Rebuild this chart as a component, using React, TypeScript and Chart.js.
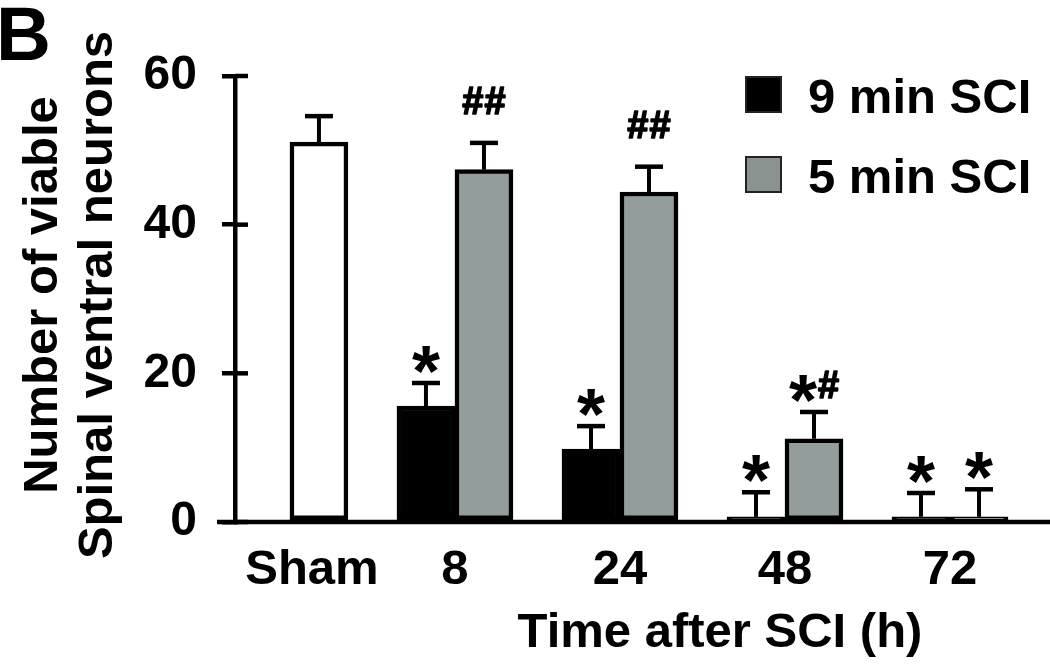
import React, { useEffect, useRef } from 'react';
import { Chart, registerables } from 'chart.js';

Chart.register(...registerables);

// ---- data ----
const categories = ['Sham', '8', '24', '48', '72'];
const shamValues = [51.1];
const shamErrors = [3.5];
const sci9Values = [15.6, 9.8, 0.7, 0.7]; // 8, 24, 48, 72 h
const sci9Errors = [3.1, 3.1, 3.3, 3.2];
const sci5Values = [47.4, 44.4, 11.2, 0.7];
const sci5Errors = [3.6, 3.4, 3.6, 3.7];
const sci9Marks = ['*', '*', '*', '*'];
const sci5Marks = ['##', '##', '*#', '*'];
const yTicks = [0, 20, 40, 60];
const yTitle = ['Number of viable', 'Spinal ventral neurons'];
const xTitle = 'Time after SCI (h)';
const panelLetter = 'B';
const seriesLabels = ['9 min SCI', '5 min SCI'];

const FONT = '"Liberation Sans", Arial, Helvetica, sans-serif';
const GRAY = '#939d9b';

function drawMark(ctx: CanvasRenderingContext2D, mark: string, cx: number, capY: number) {
  const starSize = 72;
  const hashSize = 38;
  const hasStar = mark.includes('*');
  const yc = hasStar ? capY - 27 : capY - 42;
  const parts = mark.split('');
  const widths = parts.map((ch) => {
    ctx.font = `bold ${ch === '*' ? starSize : hashSize}px ${FONT}`;
    return ctx.measureText(ch).width;
  });
  const gap = parts.length > 1 ? 1 : 0;
  const total = widths.reduce((a, b) => a + b, 0) + gap * (parts.length - 1);
  let x = cx - total / 2;
  ctx.textAlign = 'left';
  ctx.textBaseline = 'alphabetic';
  ctx.fillStyle = '#000';
  ctx.strokeStyle = '#000';
  ctx.lineJoin = 'round';
  parts.forEach((ch, i) => {
    const size = ch === '*' ? starSize : hashSize;
    ctx.font = `bold ${size}px ${FONT}`;
    const baseline = ch === '*' ? yc + 0.555 * size : yc + 0.35 * size;
    ctx.fillText(ch, x, baseline);
    if (ch === '#') {
      ctx.lineWidth = 1.6;
      ctx.strokeText(ch, x, baseline);
    }
    x += widths[i] + gap;
  });
}

const overlayPlugin = {
  id: 'overlay',
  afterDatasetsDraw(chart: any) {
    const ctx: CanvasRenderingContext2D = chart.ctx;
    const { left, right, bottom } = chart.chartArea;
    const ys = chart.scales.y;
    ctx.save();
    // error bars + significance marks
    chart.data.datasets.forEach((ds: any, di: number) => {
      const meta = chart.getDatasetMeta(di);
      meta.data.forEach((el: any, i: number) => {
        const raw = ds.data[i];
        const err = ds.errors[i];
        const capY = ys.getPixelForValue(raw.y + err);
        const x = el.x;
        ctx.strokeStyle = '#000';
        ctx.lineWidth = 4;
        ctx.beginPath();
        ctx.moveTo(x, el.y);
        ctx.lineTo(x, capY);
        ctx.stroke();
        ctx.lineWidth = 4.5;
        ctx.beginPath();
        ctx.moveTo(x - 14, capY);
        ctx.lineTo(x + 14, capY);
        ctx.stroke();
        const mark = ds.marks ? ds.marks[i] : '';
        if (mark) drawMark(ctx, mark, x, capY);
      });
    });
    // baseline (x axis line), extends left of the y axis
    ctx.strokeStyle = '#000';
    ctx.lineWidth = 4.5;
    ctx.beginPath();
    ctx.moveTo(left - 18, bottom);
    ctx.lineTo(right, bottom);
    ctx.stroke();
    // inner half of the y tick marks
    ys.ticks.forEach((t: any) => {
      const py = ys.getPixelForValue(t.value);
      ctx.beginPath();
      ctx.moveTo(left, py);
      ctx.lineTo(left + 13, py);
      ctx.stroke();
    });
    ctx.restore();
  },
  afterDraw(chart: any) {
    const ctx: CanvasRenderingContext2D = chart.ctx;
    const { top, bottom } = chart.chartArea;
    ctx.save();
    ctx.fillStyle = '#000';

    // panel letter
    ctx.font = `bold 76px ${FONT}`;
    ctx.textAlign = 'left';
    ctx.textBaseline = 'alphabetic';
    ctx.fillText(panelLetter, -4, 60);

    // x tick labels, centred under the bars of each category
    ctx.font = `bold 49px ${FONT}`;
    ctx.textAlign = 'center';
    categories.forEach((cat, ci) => {
      const xs: number[] = [];
      chart.data.datasets.forEach((ds: any, di: number) => {
        const meta = chart.getDatasetMeta(di);
        ds.data.forEach((p: any, i: number) => {
          if (p.x === ci) xs.push(meta.data[i].x);
        });
      });
      const cx = xs.reduce((a, b) => a + b, 0) / xs.length;
      ctx.fillText(cat, ci === 0 ? cx - 7 : cx, bottom + 62);
    });

    // x title
    ctx.fillText(xTitle, 720, bottom + 125);

    // y title (two lines, rotated)
    ctx.save();
    ctx.translate(43, (top + bottom) / 2 - 4);
    ctx.rotate(-Math.PI / 2);
    ctx.textAlign = 'center';
    ctx.textBaseline = 'middle';
    yTitle.forEach((line, i) => ctx.fillText(line, 0, i * 55));
    ctx.restore();

    // legend
    const legendItems = chart.data.datasets.filter((d: any) => d.inLegend);
    legendItems.forEach((ds: any, k: number) => {
      const sx = 745;
      const sy = 76 + k * 80;
      ctx.fillStyle = k === 0 ? ds.backgroundColor : '#8b9391';
      ctx.fillRect(sx, sy, 37, 37);
      ctx.strokeStyle = '#222';
      ctx.lineWidth = 2;
      ctx.strokeRect(sx + 1, sy + 1, 35, 35);
      ctx.fillStyle = '#000';
      ctx.font = `bold 49px ${FONT}`;
      ctx.textAlign = 'left';
      ctx.textBaseline = 'alphabetic';
      ctx.fillText(ds.label, 808, sy + 37);
    });
    ctx.restore();
  },
};

export default function App() {
  const ref = useRef<HTMLCanvasElement>(null);
  useEffect(() => {
    if (!ref.current) return;
    const datasets: any[] = [
      {
        label: seriesLabels[0],
        data: sci9Values.map((v, i) => ({ x: i + 1, y: v })),
        errors: sci9Errors,
        marks: sci9Marks,
        stack: 'a',
        inLegend: true,
        backgroundColor: '#000',
      },
      {
        label: seriesLabels[1],
        data: sci5Values.map((v, i) => ({ x: i + 1, y: v })),
        errors: sci5Errors,
        marks: sci5Marks,
        stack: 'b',
        inLegend: true,
        backgroundColor: GRAY,
      },
      {
        label: categories[0],
        data: shamValues.map((v) => ({ x: 0, y: v })),
        errors: shamErrors,
        marks: [],
        stack: 'b',
        inLegend: false,
        backgroundColor: '#fff',
      },
    ];
    const chart = new Chart(ref.current, {
      type: 'bar',
      data: { datasets },
      plugins: [overlayPlugin],
      options: {
        animation: false,
        responsive: false,
        devicePixelRatio: 1,
        layout: { padding: { top: 76, left: 0, right: 0, bottom: 0 } },
        datasets: {
          bar: {
            barThickness: 58,
            borderWidth: 4.5,
            borderColor: '#000',
            borderSkipped: false,
          },
        },
        plugins: { legend: { display: false }, tooltip: { enabled: false }, title: { display: false } },
        scales: {
          x: {
            type: 'linear',
            min: -0.333,
            max: 4.606,
            offset: false,
            ticks: { display: false },
            grid: { display: false },
            border: { display: false },
            afterFit: (s: any) => {
              s.height = 146;
            },
          },
          y: {
            min: 0,
            max: 60,
            afterBuildTicks: (s: any) => {
              s.ticks = yTicks.map((v) => ({ value: v }));
            },
            afterFit: (s: any) => {
              s.width = 235;
            },
            ticks: {
              color: '#000',
              padding: 25,
              font: { family: FONT, size: 48, weight: 'bold' },
            },
            grid: {
              drawOnChartArea: false,
              tickLength: 13,
              lineWidth: 4.5,
              color: '#000',
            },
            border: { width: 4.5, color: '#000' },
          },
        },
      } as any,
    });
    return () => chart.destroy();
  }, []);
  return (
    <div style={{ position: 'absolute', left: 0, top: 0, width: 1050, height: 668, background: '#fff' }}>
      <canvas ref={ref} width={1050} height={668} style={{ display: 'block' }} />
    </div>
  );
}
